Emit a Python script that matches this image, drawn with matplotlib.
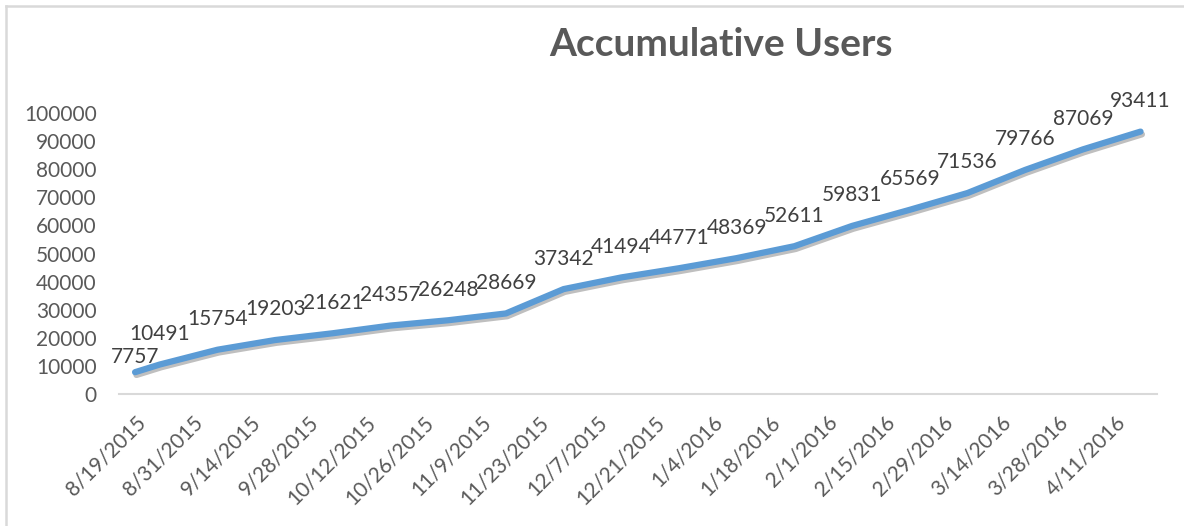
import pandas as pd
import matplotlib
matplotlib.use("Agg")
from matplotlib import pyplot as plt
import matplotlib.dates as mdate
import matplotlib.patheffects as pe
import matplotlib.transforms as mtrans
from datetime import timedelta

dates = ['2015-08-19', '2015-08-25', '2015-09-08', '2015-09-22', '2015-10-06',
         '2015-10-20', '2015-11-03', '2015-11-17', '2015-12-01', '2015-12-15',
         '2015-12-29', '2016-01-12', '2016-01-26', '2016-02-09', '2016-02-23',
         '2016-03-08', '2016-03-22', '2016-04-05', '2016-04-19']
users = [7757, 10491, 15754, 19203, 21621, 24357, 26248, 28669, 37342, 41494,
         44771, 48369, 52611, 59831, 65569, 71536, 79766, 87069, 93411]
tick_labels = ['8/19/2015', '8/31/2015', '9/14/2015', '9/28/2015', '10/12/2015',
               '10/26/2015', '11/9/2015', '11/23/2015', '12/7/2015', '12/21/2015',
               '1/4/2016', '1/18/2016', '2/1/2016', '2/15/2016', '2/29/2016',
               '3/14/2016', '3/28/2016', '4/11/2016']

x = pd.to_datetime(dates)

plt.rcParams['font.family'] = ['Lato', 'DejaVu Sans']
fig = plt.figure(figsize=(11.84, 5.26), dpi=100)
ax = fig.add_axes([0.1005, 0.251, 0.8767, 0.534])

shadow = [pe.SimpleLineShadow(offset=(1, -2), shadow_color='#000000', alpha=0.25),
          pe.Normal()]
ax.plot(x, users, color='#5B9BD5', linewidth=4.5, solid_capstyle='round',
        solid_joinstyle='round', path_effects=shadow, zorder=3)

for i, (xi, yi) in enumerate(zip(x, users)):
    # Excel nudged the first label down, closer to the line
    dy = 11 if i == 0 else 22
    ax.annotate(str(yi), (xi, yi), xytext=(0, dy), textcoords='offset points',
                ha='center', va='center', fontsize=15, color='#404040', zorder=4)

start = x[0]
ax.set_xlim(mdate.date2num(start - timedelta(days=3.9)),
            mdate.date2num(start + timedelta(days=248)))
ax.set_ylim(0, 100000)

# labels sit evenly every two weeks like the original Excel axis
ticks = [mdate.date2num(start + timedelta(days=14 * i)) for i in range(len(tick_labels))]
ax.set_xticks(ticks)
ax.set_xticklabels(tick_labels, rotation=45, ha='right', va='top',
                   rotation_mode='anchor', fontsize=15, color='#595959')
shift = mtrans.ScaledTranslation(-0.06, 0, fig.dpi_scale_trans)
for lab in ax.get_xticklabels():
    lab.set_transform(lab.get_transform() + shift)
ax.set_yticks(range(0, 100001, 10000))
ax.set_yticklabels([str(v) for v in range(0, 100001, 10000)], fontsize=15, color='#595959')
ax.tick_params(axis='both', length=0)
ax.tick_params(axis='x', pad=13)
ax.tick_params(axis='y', pad=16)

for side in ['top', 'right', 'left']:
    ax.spines[side].set_visible(False)
ax.spines['bottom'].set_color('#D9D9D9')
ax.spines['bottom'].set_linewidth(1.5)

fig.text(0.609, 0.915, 'Accumulative Users', ha='center', va='center',
         fontsize=28, fontweight='bold', color='#595959')

# light frame on top and left like the cropped chart border
fig.add_artist(plt.Line2D([0.005, 0.005], [0, 0.989], transform=fig.transFigure,
                          color='#D9D9D9', linewidth=1.8))
fig.add_artist(plt.Line2D([0.005, 1], [0.989, 0.989], transform=fig.transFigure,
                          color='#D9D9D9', linewidth=1.8))

fig.savefig('out.png', dpi=100)
